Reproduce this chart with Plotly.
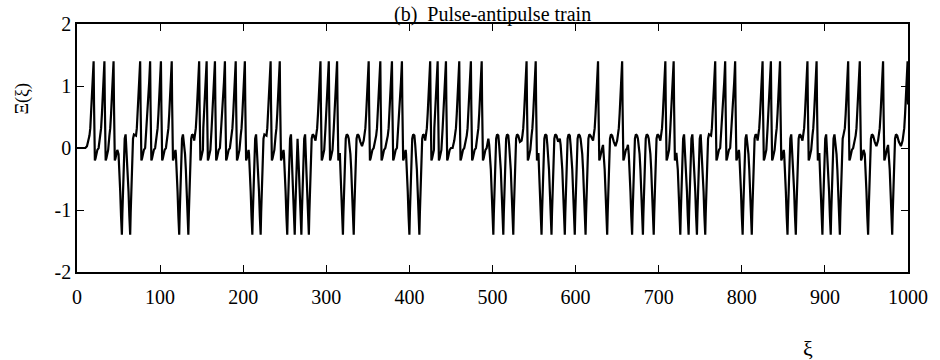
import plotly.graph_objects as go

# ---- data ----
# pulse centres (xi) and their signs (+1 pulse, -1 antipulse)
pulse_xi = [20, 33, 44, 54, 64, 76, 88, 101, 114, 123, 134,
            147, 156, 166, 178, 191, 202, 211, 221, 233, 244,
            253, 262, 270, 279, 293, 303, 313, 320, 333,
            351, 365, 379, 391, 400, 412,
            425, 434, 444, 460, 474, 487, 501, 513, 525,
            541, 552, 559, 571, 587, 599, 612, 627, 638, 656,
            668, 681, 694, 708, 718, 726, 736, 746, 756,
            768, 780, 792, 801, 812, 825, 835, 846, 855, 865,
            879, 890, 897, 907, 918, 928, 942, 952, 970, 981, 999.5]
pulse_sign = [1, 1, 1, -1, -1, 1, 1, 1, 1, -1, -1,
              1, 1, 1, 1, 1, 1, -1, -1, 1, 1,
              -1, -1, -1, -1, 1, 1, 1, -1, -1,
              1, 1, 1, 1, -1, -1,
              1, 1, 1, 1, 1, 1, -1, -1, -1,
              1, 1, -1, -1, -1, -1, -1, 1, -1, 1,
              -1, -1, -1, 1, 1, -1, -1, -1, -1,
              1, 1, 1, -1, -1, 1, 1, 1, -1, -1,
              1, 1, -1, -1, -1, 1, 1, -1, 1, -1, 1]

# pulse shape (offset from centre, value)
pos_t = [-10, -8, -6, -5, -4, -3, -2, -1.2, -0.5, 0, 0.5, 1.0, 1.5, 2.3, 3.3, 4.5, 6, 8, 10]
pos_v = [0.0, 0.03, 0.12, 0.2, 0.32, 0.55, 0.8, 1.05, 1.25, 1.4, 0.7, 0.0, -0.2, -0.17, -0.08, -0.03, 0.0, 0.0, 0.0]
neg_t = [-10, -8, -6, -5, -4, -3, -2, -1, -0.4, 0, 0.6, 1.4, 2.4, 3.4, 4.5, 6, 8, 10]
neg_v = [0.0, 0.05, 0.15, 0.05, -0.1, -0.35, -0.7, -1.1, -1.3, -1.4, -1.05, -0.55, -0.1, 0.15, 0.22, 0.2, 0.1, 0.02]

x_ticks = [0, 100, 200, 300, 400, 500, 600, 700, 800, 900, 1000]
x_ticklabels = ["0", "100", "200", "300", "400", "500", "600", "700", "800", "900", "1000"]
y_ticks = [-2, -1, 0, 1, 2]
y_ticklabels = ["-2", "-1", "0", "1", "2"]

# ---- assemble the trace from the pulses ----
xs, ys = [0.0], [0.0]
n = len(pulse_xi)
for i, (c, s) in enumerate(zip(pulse_xi, pulse_sign)):
    lo = (pulse_xi[i - 1] + c) / 2 if i > 0 else 0.0
    hi = (pulse_xi[i + 1] + c) / 2 if i < n - 1 else 1000.0
    tt, vv = (pos_t, pos_v) if s > 0 else (neg_t, neg_v)
    for t, v in zip(tt, vv):
        x = c + t
        if lo < x <= hi and x <= 1000:
            xs.append(x)
            ys.append(v)

fig = go.Figure()
fig.add_trace(go.Scatter(x=xs, y=ys, mode="lines",
                         line=dict(color="black", width=2.2),
                         hoverinfo="skip", showlegend=False))

serif = "Liberation Serif, Times New Roman, serif"
fig.update_layout(
    width=940, height=360,
    margin=dict(l=77, r=26, t=24, b=88),
    paper_bgcolor="white", plot_bgcolor="white",
    font=dict(family=serif, size=20, color="black"),
    showlegend=False,
)
fig.update_xaxes(range=[0, 1000], tickvals=x_ticks, ticktext=x_ticklabels,
                 ticks="inside", ticklen=7, tickwidth=1.2, tickcolor="black",
                 showline=True, linecolor="black", linewidth=1.5, mirror="ticks",
                 showgrid=False, zeroline=False, ticklabelstandoff=6)
fig.update_yaxes(range=[-2, 2], tickvals=y_ticks, ticktext=y_ticklabels,
                 ticks="inside", ticklen=7, tickwidth=1.2, tickcolor="black",
                 showline=True, linecolor="black", linewidth=1.5, mirror="ticks",
                 showgrid=False, zeroline=False)

fig.add_annotation(text="(b)  Pulse-antipulse train", xref="paper", yref="paper",
                   x=0.5, y=1.0, xanchor="center", yanchor="bottom", yshift=-4,
                   showarrow=False, font=dict(family=serif, size=20, color="black"))
fig.add_annotation(text="Ξ(ξ)", xref="paper", yref="y", x=-0.066, y=0.8,
                   textangle=-90, xanchor="center", yanchor="middle",
                   showarrow=False, font=dict(family=serif, size=18, color="black"))
fig.add_annotation(text="ξ", xref="x", yref="paper", x=880, y=-0.31,
                   xanchor="center", yanchor="middle",
                   showarrow=False, font=dict(family=serif, size=22, color="black"))

fig.write_html("out.html")
